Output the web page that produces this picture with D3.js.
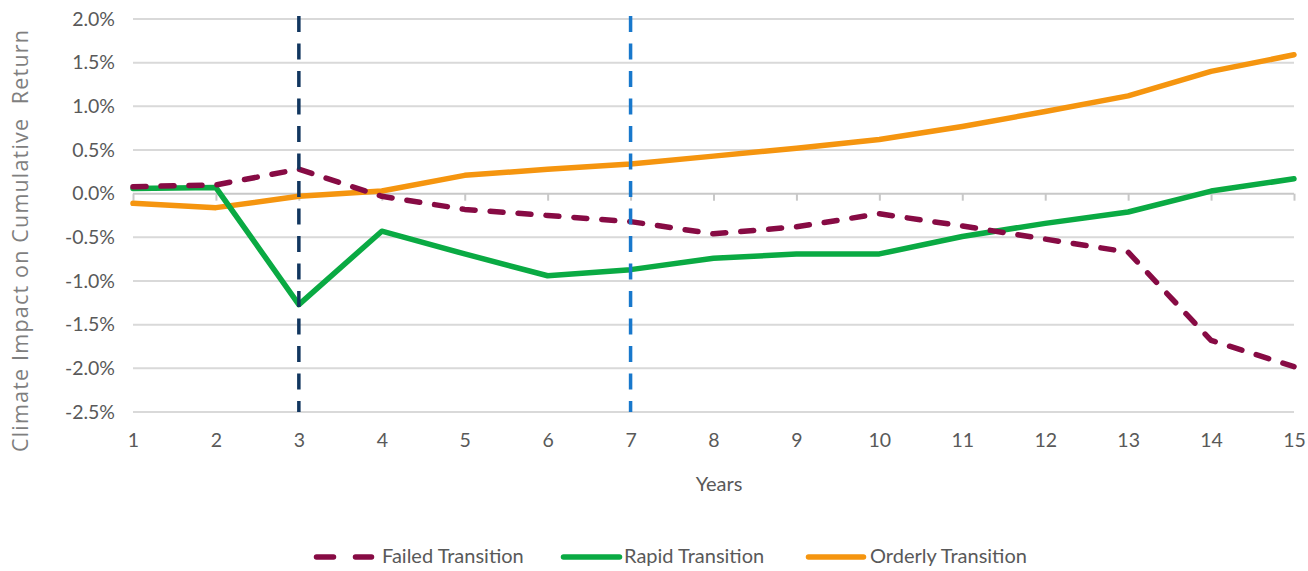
<!DOCTYPE html>
<html>
<head>
<meta charset="utf-8">
<script src="https://cdn.jsdelivr.net/npm/d3@7"></script>
<style>
  html, body { margin: 0; padding: 0; background: #ffffff; }
  svg { display: block; }
</style>
</head>
<body>
<svg id="chart" width="1308" height="571"></svg>
<script>
// ---- Data ----
const years = [1, 2, 3, 4, 5, 6, 7, 8, 9, 10, 11, 12, 13, 14, 15];
const failedTransition  = [0.08, 0.10, 0.28, -0.03, -0.18, -0.25, -0.32, -0.46, -0.38, -0.23, -0.37, -0.52, -0.67, -1.68, -1.98];
const rapidTransition   = [0.06, 0.07, -1.27, -0.43, -0.69, -0.94, -0.87, -0.74, -0.69, -0.69, -0.49, -0.34, -0.21, 0.03, 0.17];
const orderlyTransition = [-0.11, -0.16, -0.03, 0.03, 0.21, 0.28, 0.34, 0.43, 0.52, 0.62, 0.77, 0.94, 1.12, 1.40, 1.59];
const yTicks = [2.0, 1.5, 1.0, 0.5, 0.0, -0.5, -1.0, -1.5, -2.0, -2.5];
const markerYears = [3, 7];
const seriesNames = ["Failed Transition", "Rapid Transition", "Orderly Transition"];

(function () {
// ---- Layout ----
const svg = d3.select("#chart");
const pL = 133, pR = 1294, pT = 19, pB = 412;
const x = d3.scaleLinear().domain([1, 15]).range([pL, pR]);
const y = d3.scaleLinear().domain([-2.5, 2.0]).range([pB, pT]);

const tickFont = "Lato, 'Open Sans', sans-serif";
const textColor = "#595959";

// gridlines
svg.append("g").selectAll("line").data(yTicks.filter(d => d !== 0)).join("line")
  .attr("x1", pL).attr("x2", pR)
  .attr("y1", d => y(d)).attr("y2", d => y(d))
  .attr("stroke", "#d9d9d9").attr("stroke-width", 2);

// y labels
const yAxis = d3.axisLeft(y).tickValues(yTicks).tickSize(0).tickPadding(0)
  .tickFormat(d => d3.format(".1f")(d).replace("\u2212", "-") + "%");
const gy = svg.append("g").attr("transform", `translate(${pL - 18},0)`).call(yAxis);
gy.select(".domain").remove();
gy.selectAll("text").attr("fill", textColor).style("font-family", tickFont).style("font-size", "19.5px");

// zero axis line with ticks
const xAxis = d3.axisBottom(x).tickValues(years).tickSize(7).tickFormat("");
const gx0 = svg.append("g").attr("transform", `translate(0,${y(0)})`).call(xAxis);
gx0.select(".domain").attr("stroke", "#c8c8c8").attr("stroke-width", 2).attr("d", `M${pL},0H${pR}`);
gx0.selectAll(".tick line").attr("stroke", "#c8c8c8").attr("stroke-width", 2);

// x labels at bottom
const xLab = d3.axisBottom(x).tickValues(years).tickSize(0).tickPadding(0).tickFormat(d3.format("d"));
const gx = svg.append("g").attr("transform", `translate(0,${pB + 21})`).call(xLab);
gx.select(".domain").remove();
gx.selectAll("text").attr("fill", textColor).style("font-family", tickFont).style("font-size", "19.5px");

// axis titles
svg.append("text").attr("x", 719).attr("y", 486).attr("text-anchor", "middle")
  .attr("dominant-baseline", "middle")
  .attr("fill", textColor).style("font-family", tickFont).style("font-size", "20px").text("Years");

svg.append("text")
  .attr("transform", `translate(22,${(30 + 452) / 2}) rotate(-90)`)
  .attr("text-anchor", "middle").attr("dominant-baseline", "middle")
  .attr("textLength", 422).attr("lengthAdjust", "spacing")
  .attr("fill", "#7f7f7f").style("font-family", "'Open Sans', sans-serif").style("font-size", "21.5px")
  .style("white-space", "pre")
  .text("Climate Impact on Cumulative  Return");

// lines
const line = d3.line().x((d, i) => x(years[i])).y(d => y(d));
const series = [
  { name: seriesNames[0], values: failedTransition, color: "#870b44", dash: "13,15" },
  { name: seriesNames[1], values: rapidTransition, color: "#0aaa43", dash: null },
  { name: seriesNames[2], values: orderlyTransition, color: "#f5950f", dash: null }
];
[series[2], series[1], series[0]].forEach(s => {
  svg.append("path").datum(s.values).attr("d", line)
    .attr("fill", "none").attr("stroke", s.color).attr("stroke-width", 5.5)
    .attr("stroke-linejoin", "round").attr("stroke-linecap", "round")
    .attr("stroke-dasharray", s.dash);
});

// vertical dashed markers
const markerColors = ["#11365f", "#1878cc"];
svg.append("g").selectAll("line").data(markerYears).join("line")
  .attr("x1", d => x(d)).attr("x2", d => x(d))
  .attr("y1", pT - 3).attr("y2", pB)
  .attr("stroke", (d, i) => markerColors[i]).attr("stroke-width", 3.5)
  .attr("stroke-dasharray", "16,11.5");

// legend
const legY = 557;
const legend = [
  { s: series[0], x1: 316.5, x2: 371.5, tx: 382, dash: "17,22" },
  { s: series[1], x1: 563.5, x2: 619.5, tx: 624, dash: null },
  { s: series[2], x1: 808.5, x2: 863.5, tx: 870, dash: null }
];
legend.forEach(l => {
  svg.append("line").attr("x1", l.x1).attr("x2", l.x2).attr("y1", legY).attr("y2", legY)
    .attr("stroke", l.s.color).attr("stroke-width", 5.5).attr("stroke-linecap", "round")
    .attr("stroke-dasharray", l.dash);
  svg.append("text").attr("x", l.tx).attr("y", legY + 1).attr("dominant-baseline", "middle")
    .attr("fill", textColor).style("font-family", tickFont).style("font-size", "20px").text(l.s.name);
});
})();
</script>
</body>
</html>
